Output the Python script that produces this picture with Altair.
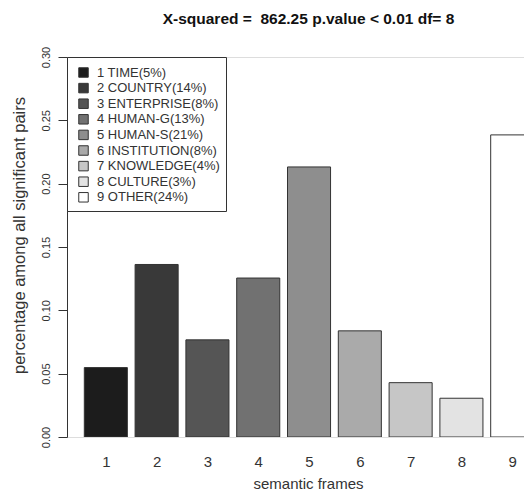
import altair as alt
import pandas as pd

# ---- data ----
frames = [1, 2, 3, 4, 5, 6, 7, 8, 9]
names = ["TIME", "COUNTRY", "ENTERPRISE", "HUMAN-G", "HUMAN-S",
         "INSTITUTION", "KNOWLEDGE", "CULTURE", "OTHER"]
pct = [5, 14, 8, 13, 21, 8, 4, 3, 24]
values = [0.0548, 0.1362, 0.0767, 0.1255, 0.2132, 0.0838, 0.0429, 0.0306, 0.2385]
grays = ["#1c1c1c", "#393939", "#555555", "#717171", "#8e8e8e",
         "#aaaaaa", "#c6c6c6", "#e3e3e3", "#ffffff"]
y_ticks = [0.0, 0.05, 0.10, 0.15, 0.20, 0.25, 0.30]

title_text = "X-squared = \u00a0862.25 p.value < 0.01 df= 8"

# ---- layout constants (R barplot style: width 1, space between bars) ----
SPACE = 0.18
W = 457
H = 380
X_MIN = -0.222
X_MAX = X_MIN + W / 43.05

labels = [f"{f} {n}({p}%)" for f, n, p in zip(frames, names, pct)]
df = pd.DataFrame({"frame": frames, "label": labels, "value": values})
df["left"] = SPACE + (df["frame"] - 1) * (1 + SPACE)
df["right"] = df["left"] + 1
centers = [SPACE + (f - 1) * (1 + SPACE) + 0.5 for f in frames]

FONT = "Liberation Sans"
TXT = "#333333"

bars = alt.Chart(df).mark_rect(clip=True, stroke="#333333", strokeWidth=1).encode(
    x=alt.X(
        "left:Q",
        scale=alt.Scale(domain=[X_MIN, X_MAX], nice=False, zero=False),
        axis=alt.Axis(
            values=centers,
            labelExpr=f"'' + (round((datum.value - {SPACE + 0.5}) / {1 + SPACE}) + 1)",
            domain=False, ticks=False, grid=False,
            labelFontSize=15, labelPadding=17, labelColor=TXT, labelFont=FONT,
            title="semantic frames", titleFontSize=15, titleFont=FONT,
            titleFontWeight="normal", titleColor=TXT,
            titleX=241, titleY=51, titleBaseline="alphabetic", titleAnchor="start",
            titleAlign="center",
        ),
    ),
    x2="right:Q",
    y=alt.Y(
        "value:Q",
        scale=alt.Scale(domain=[0, 0.30], nice=False),
        axis=alt.Axis(
            values=y_ticks, format=".2f", grid=False,
            labelAngle=270, labelAlign="center", labelBaseline="bottom",
            labelFontSize=11, labelPadding=7, labelColor=TXT, labelFont=FONT,
            tickSize=9, tickColor="#333333", domainColor="#333333",
            title="percentage among all significant pairs",
            titleFontSize=16.5, titleFont=FONT, titleFontWeight="normal",
            titleColor=TXT, titlePadding=13, titleY=178, titleAnchor="start",
            titleAlign="center",
        ),
    ),
    y2=alt.datum(0),
    color=alt.Color(
        "label:N",
        scale=alt.Scale(domain=labels, range=grays),
        sort=labels,
        legend=alt.Legend(
            title=" ", titleFontSize=1, titlePadding=2,
            orient="none", legendX=0, legendY=0,
            symbolType="square", symbolSize=90, symbolStrokeColor="#333333",
            symbolStrokeWidth=1, symbolOffset=4,
            labelFontSize=13, labelFont=FONT, labelColor=TXT, labelOffset=7,
            rowPadding=0.6, padding=6,
            strokeColor="#333333", fillColor="white", cornerRadius=0,
        ),
    ),
)

chart = bars.properties(
    width=W, height=H,
    title=alt.TitleParams(
        title_text, fontSize=15.5, fontWeight="bold", font=FONT, color="#111111",
        frame="group", anchor="middle", dx=13, offset=12, baseline="middle",
    ),
    autosize=alt.AutoSizeParams(type="none"),
    padding={"left": 59, "top": 49, "right": 0, "bottom": 53},
).configure_view(stroke=None).configure(background="white")

chart.save("out.html", embed_options={"renderer": "svg", "actions": False})
